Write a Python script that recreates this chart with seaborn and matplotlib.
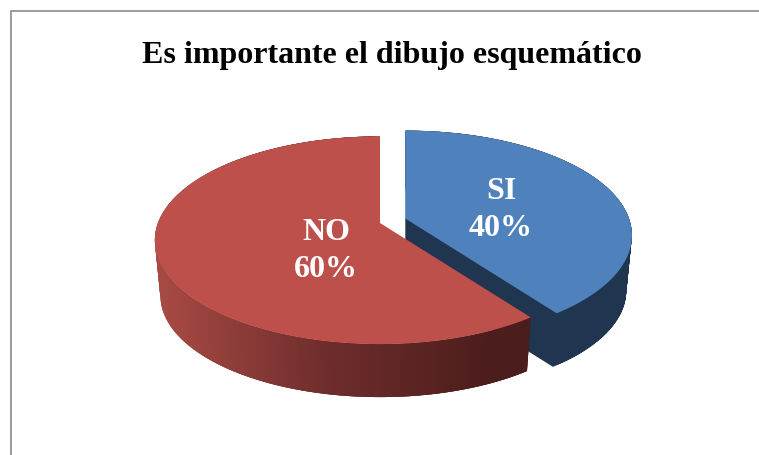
import numpy as np
import matplotlib
matplotlib.use("Agg")
import matplotlib.pyplot as plt
import seaborn as sns

title = "Es importante el dibujo esquemático"
labels = ["NO", "SI"]
values = [60, 40]

sns.set_style("white")
plt.rcParams['font.family'] = ['Liberation Serif', 'DejaVu Serif']

W, H = 759, 456
fig = plt.figure(figsize=(W / 100, H / 100), dpi=100)
ax = fig.add_axes([0, 0, 1, 1])
ax.set_xlim(0, W)
ax.set_ylim(H, 0)
ax.axis("off")

# pie geometry in pixels, k tilts the disc so the back looks smaller
A, B, K = 222, 101, 0.166
DEPTH, SHRINK = 56, 0.975
apex = {"NO": (380, 224), "SI": (406, 219)}
label_pos = {"NO": (326, 251), "SI": (501, 210)}
top_col = {"NO": "#BE504C", "SI": "#4F81BD"}

red_ramp = sns.blend_palette(["#A84A44", "#6E2D2C", "#4B1D1C"], 200)
BLUE_WALL = "#1F3550"


def rim(theta, cx, cy, depth=0.0, scale=1.0):
    t = np.radians(theta)
    u, v = np.cos(t), np.sin(t)
    d = 1 + K * v
    return cx + scale * A * u / d, cy + depth - scale * B * v / d


# slice angles from the values, NO goes counter clockwise from 12 o'clock
total = sum(values)
sweep = {lab: 360 * val / total for lab, val in zip(labels, values)}
ranges = {
    "NO": (90, 90 + sweep["NO"]),
    "SI": (90 - sweep["SI"], 90),
}


def wall_poly(lab, t0, t1):
    cx, cy = apex[lab]
    ts = np.linspace(t0, t1, 6)
    xa, ya = rim(ts, cx, cy)
    xb, yb = rim(ts[::-1], cx, cy, DEPTH, SHRINK)
    return np.r_[xa, xb], np.r_[ya, yb]


def draw_wall(lab, z):
    # overlapping strips, so the outline follows the side and no seams show
    t0, t1 = ranges[lab]
    edges = np.linspace(t0, t1, int(t1 - t0) + 1)
    for i in range(len(edges) - 1):
        end = edges[min(i + 3, len(edges) - 1)]
        xs, ys = wall_poly(lab, edges[i], end)
        if lab == "NO":
            xm = rim(edges[i], *apex[lab])[0]
            f = np.clip((xm - 155) / (490 - 155), 0, 1)
            ax.fill(xs, ys, color=red_ramp[int(f * 199)], lw=0, zorder=z)
        else:
            ax.fill(xs, ys, color=BLUE_WALL, lw=1, zorder=z)


def draw_top(lab, z, lw=0):
    cx, cy = apex[lab]
    t0, t1 = ranges[lab]
    xs, ys = rim(np.linspace(t0, t1, 300), cx, cy)
    ax.fill(np.r_[cx, xs], np.r_[cy, ys], color=top_col[lab], lw=lw, zorder=z)


# blue first, the red slice sits in front of it
draw_wall("SI", 2)
cx, cy = apex["SI"]
tx, ty = rim(ranges["SI"][0], cx, cy)
bx, by = rim(ranges["SI"][0], cx, cy, DEPTH, SHRINK)
ax.fill([cx, tx, bx, cx], [cy, ty, by, cy + DEPTH], color=BLUE_WALL, lw=1, zorder=2)
draw_top("SI", 3, lw=1.2)

draw_wall("NO", 4)
draw_top("NO", 5)

for lab, val in zip(labels, values):
    px, py = label_pos[lab]
    ax.text(px, py, f"{lab}\n{val}%", color="white", fontsize=23, fontweight="bold",
            ha="center", va="center", linespacing=1.34, zorder=7)

ax.text(392, 55, title, color="black", fontsize=23, fontweight="bold", ha="center", va="center")

# chart frame, only top and left are in the crop
ax.plot([10.5, 10.5, W], [H, 11.5, 11.5], color="#8A8A8A", lw=1.2, solid_joinstyle="miter", zorder=1)

fig.savefig("out.png", dpi=100)
